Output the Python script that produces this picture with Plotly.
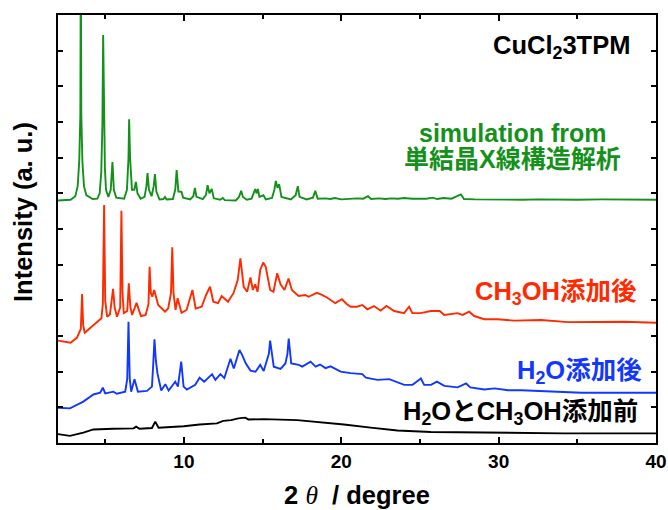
import plotly.graph_objects as go

# ---- data (y in arbitrary offset units) ----
sim_x = [2.0, 2.8, 3.1, 3.25, 3.35, 3.42, 3.45, 3.48, 3.55, 3.65, 3.8, 4.2, 4.5, 4.65, 4.75, 4.82, 4.87, 4.92,
         4.98, 5.05, 5.2, 5.35, 5.46, 5.55, 5.7, 6.2, 6.38, 6.48, 6.52, 6.58, 6.7, 6.85, 6.95, 7.05, 7.25, 7.5,
         7.62, 7.69, 7.78, 7.95, 8.08, 8.16, 8.25, 8.45, 8.7, 8.8, 8.9, 9.3, 9.45, 9.54, 9.65, 9.85, 9.95, 10.4,
         10.6, 10.7, 10.8, 11.2, 11.4, 11.51, 11.62, 11.77, 11.9, 12.3, 12.47, 12.6, 13.3, 13.5, 13.64, 13.75,
         14.0, 14.3, 14.45, 14.53, 14.62, 14.7, 14.8, 15.06, 15.2, 15.6, 15.75, 15.84, 15.95, 16.05, 16.2, 16.8,
         17.1, 17.24, 17.35, 17.8, 18.2, 18.35, 18.5, 19.0, 19.3, 19.6, 20.0, 20.5, 21.0, 21.4, 21.7, 21.9,
         22.4, 22.8, 23.2, 23.6, 24.0, 24.5, 25.0, 25.4, 25.8, 26.1, 26.5, 27.0, 27.6, 27.8, 28.5, 29.5, 30.5,
         31.5, 32.5, 33.5, 35.0, 36.5, 38.0, 40.0]
sim_y = [6.80, 6.82, 6.92, 7.2, 7.9, 9.2, 14.0, 9.2, 7.9, 7.2, 6.95, 6.84, 6.85, 7.0, 7.6, 8.9, 11.44, 9.4,
         7.7, 7.1, 6.9, 7.1, 7.88, 7.1, 6.88, 6.85, 7.1, 8.0, 9.08, 8.0, 7.1, 7.1, 7.32, 7.0, 6.85, 6.9,
         7.2, 7.57, 7.1, 6.92, 7.2, 7.54, 7.05, 6.83, 6.84, 6.9, 6.83, 6.84, 7.1, 7.65, 7.05, 7.04, 6.88, 6.83,
         6.92, 7.15, 6.9, 6.84, 6.95, 7.23, 7.0, 7.12, 6.86, 6.82, 6.87, 6.81, 6.8, 6.9, 7.07, 6.9,
         6.82, 6.85, 7.0, 7.12, 7.0, 7.12, 6.9, 6.95, 6.83, 6.87, 7.1, 7.35, 7.15, 7.26, 6.9, 6.83,
         6.95, 7.2, 6.9, 6.83, 6.88, 7.07, 6.85, 6.86, 6.84, 6.87, 6.83, 6.85, 6.86, 6.85, 6.92, 6.84,
         6.86, 6.84, 6.86, 6.85, 6.87, 6.85, 6.86, 6.85, 6.88, 6.84, 6.87, 6.85, 6.97, 6.84, 6.83, 6.82, 6.83,
         6.82, 6.83, 6.82, 6.82, 6.83, 6.82, 6.82]

meoh_x = [2.0, 2.8, 3.2, 3.45, 3.53, 3.6, 3.70, 4.2, 4.76, 4.85, 4.93, 5.0, 5.12, 5.3, 5.50, 5.6, 5.75, 5.95,
          6.03, 6.1, 6.18, 6.40, 6.50, 6.6, 6.71, 6.99, 7.27, 7.57, 7.75, 7.82, 7.9, 7.99, 8.11, 8.37, 8.80,
          9.0, 9.18, 9.26, 9.34, 9.47, 9.60, 9.85, 10.17, 10.54, 10.75, 11.13, 11.41, 11.66, 11.87, 12.17, 12.40,
          12.80, 13.15, 13.42, 13.59, 13.80, 14.02, 14.23, 14.38, 14.53, 14.68, 14.85, 15.04, 15.20, 15.33,
          15.48, 15.69, 15.93, 16.14, 16.39, 16.65, 16.86, 17.29, 17.71, 17.92, 18.45, 18.77, 19.09, 19.62,
          20.04, 20.36, 20.6, 21.0, 21.34, 21.66, 22.08, 22.5, 22.87, 23.36, 23.99, 24.31, 24.52, 25.05, 25.69,
          26.26, 26.54, 27.39, 27.71, 28.13, 28.45, 29.09, 29.94, 31.0, 32.7, 34.4, 36.1, 38.0, 40.0]
meoh_y = [2.87, 2.81, 2.95, 3.2, 4.18, 3.3, 3.09, 3.28, 3.5, 3.9, 6.67, 4.0, 3.54, 3.6, 4.32, 3.8, 3.54, 3.8,
          6.51, 4.2, 3.64, 3.7, 4.48, 3.8, 3.59, 3.93, 3.56, 3.59, 3.9, 4.94, 4.2, 4.10, 4.29, 3.87, 3.68,
          3.77, 4.2, 5.49, 4.2, 3.73, 4.06, 3.65, 3.73, 4.29, 3.77, 3.82, 4.15, 4.38, 3.96, 3.92, 4.12,
          3.96, 4.2, 4.57, 5.18, 4.38, 4.24, 4.64, 4.29, 4.45, 4.24, 4.85, 5.06, 4.94, 4.66,
          4.29, 4.24, 4.76, 4.45, 4.29, 4.61, 4.29, 4.12, 4.15, 4.10, 4.21, 4.15, 4.08, 3.92,
          4.03, 3.89, 3.82, 3.82, 3.87, 3.75, 3.84, 3.71, 3.84, 3.70, 3.64, 3.82, 3.64, 3.64, 3.70,
          3.70, 3.59, 3.64, 3.59, 3.68, 3.56, 3.47, 3.47, 3.43, 3.45, 3.39, 3.40, 3.40, 3.37]

h2o_x = [2.0, 2.76, 3.61, 4.25, 4.68, 4.85, 5.0, 5.52, 5.74, 6.27, 6.40, 6.48, 6.56, 6.65, 6.86, 7.08, 7.65, 7.97,
         8.05, 8.13, 8.22, 8.32, 8.56, 8.82, 9.03, 9.45, 9.62, 9.83, 9.98, 10.19, 10.72, 11.0, 11.29, 11.79,
         12.0, 12.32, 12.57, 12.96, 13.17, 13.53, 13.70, 13.92, 14.23, 14.55, 14.85, 15.07, 15.40, 15.48,
         15.71, 16.14, 16.45, 16.58, 16.66, 16.82, 17.3, 17.52, 18.05, 18.37, 18.65, 19.0, 19.32, 19.96, 20.6,
         21.34, 21.56, 22.3, 23.05, 24.0, 24.53, 25.06, 25.27, 25.7, 26.08, 26.55, 27.4, 27.93, 28.2, 29.1,
         29.74, 30.59, 31.44, 33.14, 35.27, 37.4, 40.0]
h2o_y = [0.99, 0.97, 1.16, 1.36, 1.41, 1.55, 1.39, 1.44, 1.38, 1.44, 1.8, 3.40, 1.8, 1.44, 1.79, 1.44, 1.46, 1.58,
         2.2, 2.91, 2.3, 1.95, 1.47, 1.65, 1.47, 1.72, 1.58, 2.28, 1.58, 1.50, 1.63, 1.83, 1.72, 1.93,
         1.77, 1.93, 1.82, 2.36, 2.09, 2.61, 2.47, 2.24, 2.03, 2.0, 2.19, 2.02, 2.5, 2.87,
         2.14, 2.08, 2.23, 2.5, 2.93, 2.23, 2.19, 2.14, 2.28, 2.14, 2.2, 2.1, 2.15, 2.0, 1.96,
         1.93, 1.83, 1.77, 1.79, 1.63, 1.63, 1.81, 1.63, 1.63, 1.72, 1.6, 1.56, 1.67, 1.56, 1.50,
         1.53, 1.48, 1.48, 1.44, 1.41, 1.41, 1.41]

pre_x = [2.0, 2.76, 3.61, 4.25, 5.52, 6.8, 6.97, 7.18, 7.97, 8.18, 8.39, 9.99, 11.0, 12.1, 12.5, 13.0, 13.46,
         13.89, 14.1, 15.08, 17.2, 18.9, 20.17, 21.87, 23.57, 25.7, 29.9, 34.1, 40.0]
pre_y = [0.25, 0.2, 0.29, 0.38, 0.40, 0.41, 0.46, 0.40, 0.42, 0.60, 0.43, 0.47, 0.52, 0.55, 0.62, 0.64, 0.69,
         0.71, 0.66, 0.67, 0.64, 0.58, 0.52, 0.43, 0.35, 0.31, 0.29, 0.27, 0.27]

x_ticks = [10, 20, 30, 40]

GREEN = "#14911a"
RED = "#ff2a00"
BLUE = "#1238ff"
BLACK = "#000000"
FONT = "Liberation Sans, Arial, Noto Sans CJK JP, sans-serif"
ANN_SIZE = 25.5

fig = go.Figure()
for xs, ys, col in [(sim_x, sim_y, GREEN), (meoh_x, meoh_y, RED), (h2o_x, h2o_y, BLUE), (pre_x, pre_y, BLACK)]:
    fig.add_trace(go.Scatter(x=xs, y=ys, mode="lines", line=dict(color=col, width=1.9), showlegend=False,
                             cliponaxis=True))

axis_common = dict(showline=True, linecolor="black", linewidth=2, mirror="allticks", ticks="inside",
                   tickcolor="black", tickwidth=2, showgrid=False, zeroline=False, automargin=False)

fig.update_xaxes(range=[2, 40], tickvals=x_ticks, ticklen=6,
                 tickfont=dict(family=FONT, size=19, color="black", weight="bold"),
                 minor=dict(dtick=5, tick0=0, ticks="inside", ticklen=4, tickcolor="black", tickwidth=2),
                 title=dict(text="2 <span style='font-family:Liberation Serif;font-weight:normal'><i>θ</i></span>  / degree",
                            font=dict(family=FONT, size=25.5, color="black", weight="bold"), standoff=15),
                 **axis_common)
fig.update_yaxes(range=[0, 12], dtick=1, tick0=0, ticklen=5, showticklabels=False, **axis_common)

# y-axis title
fig.add_annotation(xref="paper", yref="paper", x=(23 - 58) / 598, y=(443 - 212) / 428,
                   xanchor="center", yanchor="middle", text="Intensity (a. u.)", showarrow=False,
                   textangle=-90, font=dict(family=FONT, size=25.5, color="black", weight="bold"))

def ann(text, x, y, color, anchor="right", size=ANN_SIZE):
    fig.add_annotation(x=x, y=y, xref="x", yref="y", text=text, showarrow=False, xanchor=anchor,
                       yanchor="middle", borderpad=0,
                       font=dict(family=FONT, size=size, color=color, weight="bold"))

ann("CuCl<sub>2</sub>3TPM", 38.4, 11.1, BLACK)
ann("simulation from", 30.9, 8.70, GREEN, "center", 25)
ann("単結晶X線構造解析", 30.9, 7.96, GREEN, "center", 25)
ann("CH<sub>3</sub>OH添加後", 38.85, 4.21, RED)
ann("H<sub>2</sub>O添加後", 39.15, 1.99, BLUE)
ann("H<sub>2</sub>OとCH<sub>3</sub>OH添加前", 38.9, 0.84, BLACK)

fig.update_layout(width=668, height=510, margin=dict(l=58, r=12, t=15, b=67),
                  plot_bgcolor="white", paper_bgcolor="white")

fig.write_html("out.html")
